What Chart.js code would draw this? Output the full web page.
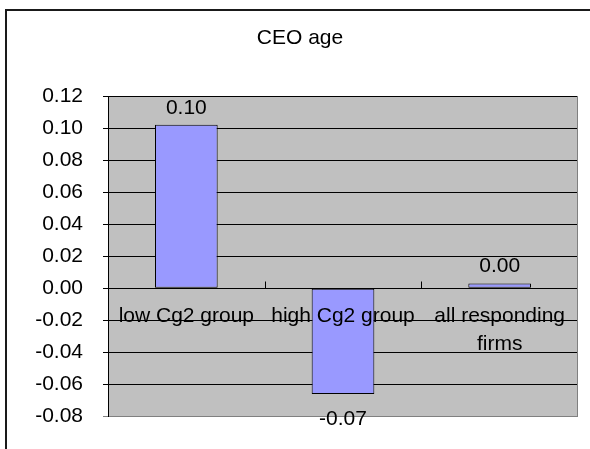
<!DOCTYPE html>
<html>
<head>
<meta charset="utf-8">
<script src="https://cdn.jsdelivr.net/npm/chart.js@4/dist/chart.umd.min.js"></script>
<style>
  html, body { margin: 0; padding: 0; background: #fff; overflow: hidden; }
  #wrap { position: relative; width: 590px; height: 449px; }
  #wrap canvas { position: absolute; left: 0; top: 0; }
  #frame {
    position: absolute; left: 5px; top: 9px; width: 620px; height: 480px;
    border-top: 2px solid #1a1a1a; border-left: 2px solid #1a1a1a;
    pointer-events: none;
  }
</style>
</head>
<body>
<div id="wrap">
  <canvas id="chart" width="590" height="449"></canvas>
  <div id="frame"></div>
</div>
<script>
// Chart content
const chartTitle = 'CEO age';
const categories = [['low Cg2 group'], ['high Cg2 group'], ['all responding', 'firms']];
const values = [0.102, -0.066, 0.003];
const yTickValues = [-0.08, -0.06, -0.04, -0.02, 0.00, 0.02, 0.04, 0.06, 0.08, 0.10, 0.12];

const FONT = '"Liberation Sans", Arial, sans-serif';
const FONT_SIZE = 21;
const fmt = v => v.toFixed(2);

// Gray plot area, zero-line category labels, value labels and title
const decor = {
  id: 'decor',
  beforeDraw(chart) {
    const { ctx, chartArea: a } = chart;
    ctx.save();
    ctx.fillStyle = '#ffffff';
    ctx.fillRect(0, 0, chart.width, chart.height);
    ctx.fillStyle = '#c0c0c0';
    ctx.fillRect(a.left, a.top, a.right - a.left, a.bottom - a.top);
    ctx.restore();
  },
  afterDatasetsDraw(chart) {
    const { ctx, chartArea: a, scales: { x, y } } = chart;
    const zero = Math.round(y.getPixelForValue(0)) + 0.5;
    ctx.save();

    // right edge of the plot area
    ctx.strokeStyle = '#808080';
    ctx.lineWidth = 1;
    ctx.beginPath();
    ctx.moveTo(Math.round(a.right) - 0.5, a.top);
    ctx.lineTo(Math.round(a.right) - 0.5, a.bottom);
    ctx.stroke();

    // category boundary ticks on the zero line
    ctx.strokeStyle = '#000';
    ctx.beginPath();
    for (let i = 1; i < categories.length; i++) {
      const px = Math.round((x.getPixelForValue(i - 1) + x.getPixelForValue(i)) / 2) + 0.5;
      ctx.moveTo(px, zero);
      ctx.lineTo(px, zero - 7);
    }
    ctx.stroke();

    ctx.fillStyle = '#000';
    ctx.font = FONT_SIZE + 'px ' + FONT;
    ctx.textAlign = 'center';
    ctx.textBaseline = 'alphabetic';

    // category labels just below the zero line
    categories.forEach((lines, i) => {
      const cx = x.getPixelForValue(i);
      lines.forEach((t, j) => ctx.fillText(t, cx, zero + 33 + j * 28));
    });

    // value labels
    const meta = chart.getDatasetMeta(0);
    meta.data.forEach((bar, i) => {
      const v = values[i];
      const txt = fmt(v);
      if (v >= 0) {
        ctx.fillText(txt, bar.x, bar.y - 11);
      } else {
        ctx.fillText(txt, bar.x, bar.y + 31);
      }
    });

    // title
    ctx.fillText(chartTitle, 300, 44);
    ctx.restore();
  }
};

new Chart(document.getElementById('chart'), {
  type: 'bar',
  data: {
    labels: categories,
    datasets: [{
      data: values,
      backgroundColor: '#9999ff',
      borderColor: '#000000',
      borderWidth: 1,
      borderSkipped: false,
      categoryPercentage: 1,
      barPercentage: 0.4
    }]
  },
  options: {
    responsive: false,
    animation: false,
    layout: { padding: { top: 96, right: 12, bottom: 30, left: 0 } },
    plugins: {
      legend: { display: false },
      tooltip: { enabled: false },
      title: { display: false }
    },
    scales: {
      x: { display: false },
      y: {
        min: -0.08,
        max: 0.12,
        afterBuildTicks: s => { s.ticks = yTickValues.map(v => ({ value: v })); },
        afterFit: s => { s.width = 108; },
        ticks: {
          callback: v => fmt(v),
          color: '#000',
          padding: 20,
          font: { family: FONT, size: FONT_SIZE }
        },
        grid: {
          color: c => (c.tick && c.tick.value === yTickValues[0]) ? '#808080' : '#000000',
          lineWidth: 1,
          tickLength: 5,
          drawTicks: true
        },
        border: { color: '#000000', width: 1 }
      }
    }
  },
  plugins: [decor]
});
</script>
</body>
</html>
